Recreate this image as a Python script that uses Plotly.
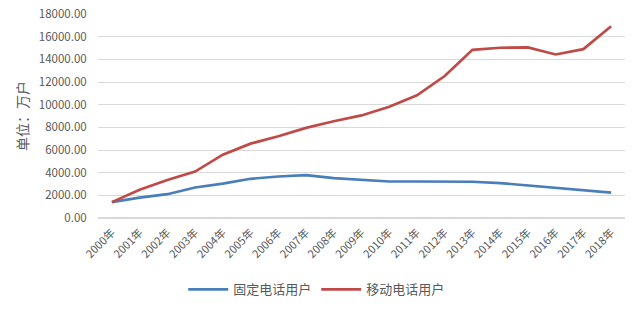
import plotly.graph_objects as go

years = [f"{y}年" for y in range(2000, 2019)]
fixed_users = [1400, 1800, 2100, 2690, 3040, 3460, 3660, 3790, 3520, 3370,
               3220, 3220, 3200, 3200, 3080, 2870, 2630, 2420, 2240]
mobile_users = [1400, 2500, 3350, 4100, 5590, 6560, 7210, 7950, 8540, 9050,
                9820, 10820, 12530, 14840, 15020, 15050, 14430, 14900, 16920]
y_ticks = list(range(0, 18001, 2000))

font_family = "Noto Sans CJK SC, Noto Sans, sans-serif"
grey = "#595959"

fig = go.Figure()
fig.add_trace(go.Scatter(x=years, y=fixed_users, mode="lines", name="固定电话用户",
                         line=dict(color="#4a7ebb", width=2.7)))
fig.add_trace(go.Scatter(x=years, y=mobile_users, mode="lines", name="移动电话用户",
                         line=dict(color="#be4b48", width=2.7)))

fig.update_layout(
    width=640, height=313,
    margin=dict(l=98, r=15, t=14, b=95, autoexpand=False),
    paper_bgcolor="white", plot_bgcolor="white",
    font=dict(family=font_family, color=grey, size=11),
    showlegend=True,
    legend=dict(orientation="h", x=0.415, xanchor="center", y=-0.35, yanchor="middle",
                font=dict(size=13, color=grey), itemwidth=40, tracegroupgap=0),
    xaxis=dict(type="category", range=[-0.5, 18.5], tickangle=-45, automargin=False,
               showgrid=False, showline=False, ticks="outside", ticklen=3,
               tickcolor="rgba(0,0,0,0)",
               tickfont=dict(size=11, color=grey)),
    yaxis=dict(range=[0, 18000], tickvals=y_ticks, automargin=False,
               ticktext=[f"{v:.2f}" for v in y_ticks],
               gridcolor="#d9d9d9", gridwidth=1, zeroline=True, zerolinecolor="#d9d9d9",
               showline=False, ticks="outside", ticklen=8, tickcolor="rgba(0,0,0,0)",
               tickfont=dict(size=11.5, color=grey),
               title=dict(text="单位：万户", font=dict(size=14, color=grey), standoff=6)),
)

fig.write_html("out.html")
